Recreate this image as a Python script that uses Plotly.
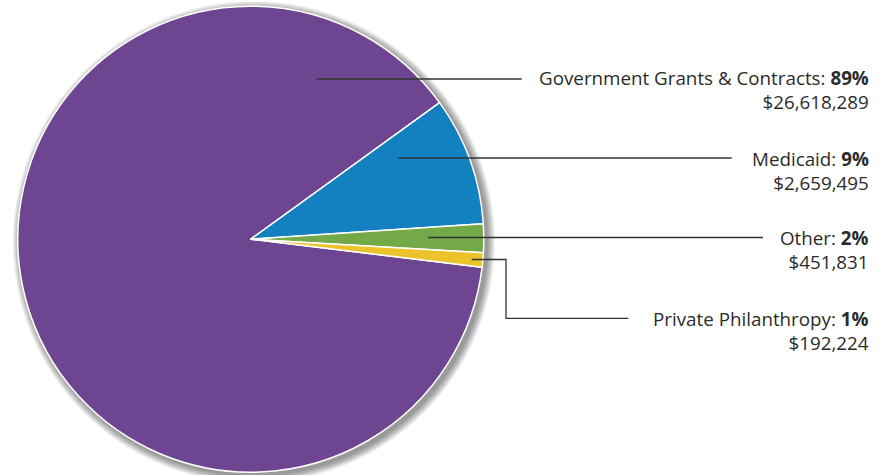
import plotly.graph_objects as go

# ---- data ----
categories = ["Government Grants & Contracts", "Medicaid", "Other", "Private Philanthropy"]
percents = [89, 9, 2, 1]
amounts = ["$26,618,289", "$2,659,495", "$451,831", "$192,224"]
colors = ["#6D4590", "#1380BF", "#74A948", "#ECC32A"]

# ---- layout constants (pixels) ----
W, H = 890, 475
CX, CY, R = 250.8, 239.2, 233.0
TEXT_RIGHT = 869.5
# leader line points per label: list of (x, y) pixel points
leaders = [
    [(316.7, 79), (521.7, 79)],
    [(398.3, 158), (731.7, 158)],
    [(428.3, 237.5), (763, 237.5)],
    [(471.7, 259.5), (506, 259.5), (506, 318.3), (628.3, 318.3)],
]
label_y = [78.0, 158.5, 237.7, 318.5]   # centre of first text line
FONT_SIZE = 18.8
LINE_H = FONT_SIZE * 1.3                 # plotly line spacing


def px(x):
    return x / W


def py(y):
    return 1 - y / H


fig = go.Figure()
fig.add_trace(go.Pie(
    labels=categories,
    values=percents,
    sort=False,
    direction="clockwise",
    rotation=96.9,
    marker=dict(colors=colors, line=dict(color="white", width=1.5)),
    textinfo="none",
    hoverinfo="label+percent",
    showlegend=False,
    domain=dict(x=[px(CX - R), px(CX + R)], y=[py(CY + R), py(CY - R)]),
))

shapes = []
# soft drop shadow behind the pie
for k in range(8):
    rr = R + 1 + k * 1.0
    sx, sy = CX + 3, CY + 3
    shapes.append(dict(
        type="circle", xref="paper", yref="paper", layer="below",
        x0=px(sx - rr), x1=px(sx + rr), y0=py(sy + rr), y1=py(sy - rr),
        fillcolor="rgba(0,0,0,0.06)", line=dict(width=0),
    ))

for pts in leaders:
    path = "M " + " L ".join(f"{px(x)},{py(y)}" for x, y in pts)
    shapes.append(dict(
        type="path", xref="paper", yref="paper", path=path,
        line=dict(color="#333333", width=1.3),
    ))

annotations = []
FONT = dict(family="Open Sans", size=FONT_SIZE, color="#2b2b2b")
for name, pct, amt, ly in zip(categories, percents, amounts, label_y):
    annotations.append(dict(
        x=px(TEXT_RIGHT), y=py(ly + LINE_H / 2), xref="paper", yref="paper",
        xanchor="right", yanchor="middle", align="right", showarrow=False,
        text=f"{name}: <b>{pct}%</b><br>{amt}", font=FONT, borderpad=0,
    ))

fig.update_layout(
    width=W, height=H,
    margin=dict(l=0, r=0, t=0, b=0),
    paper_bgcolor="white",
    plot_bgcolor="white",
    shapes=shapes,
    annotations=annotations,
)

fig.write_html(
    "out.html",
    config={"displayModeBar": False},
    post_script="document.body.style.margin='0';",
)
